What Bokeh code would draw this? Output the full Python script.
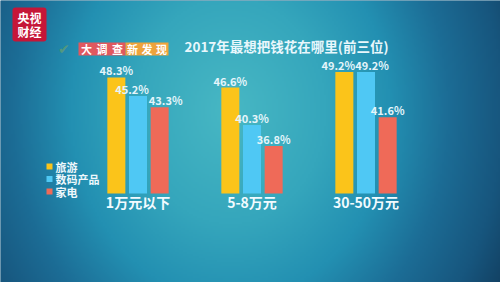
import numpy as np
from bokeh.plotting import figure
from bokeh.models import ColumnDataSource, Range1d, Label, BoxAnnotation
from bokeh.transform import dodge
from bokeh.core.properties import value
from bokeh.embed import file_html
from bokeh.resources import INLINE

# ---- data ----
categories = ["1万元以下", "5-8万元", "30-50万元"]
series_names = ["旅游", "数码产品", "家电"]
travel = [48.3, 46.6, 49.2]
digital = [45.2, 40.3, 49.2]
appliance = [43.3, 36.8, 41.6]
title_text = "2017年最想把钱花在哪里(前三位)"

# ---- styling ----
W, H = 500, 282
FONT = "Noto Sans CJK SC"
COLORS = ["#fbc41a", "#4fc8f4", "#ef6a58"]
BASE = 28.8
PX = 5.95          # pixels per percentage point
BASE_PX = 193      # baseline, px from top
GROUP_PX = 114     # px between groups
FIRST_PX = 137.5   # centre of first group
OFF = 0.19
BW = 0.158

y0 = BASE - (H - BASE_PX) / PX
y1 = BASE + BASE_PX / PX
x0 = -FIRST_PX / GROUP_PX
x1 = (W - FIRST_PX) / GROUP_PX

p = figure(width=W, height=H, output_backend="svg", toolbar_location=None,
           x_range=Range1d(x0, x1), y_range=Range1d(y0, y1),
           min_border=0, border_fill_color=None, outline_line_color=None)
p.axis.visible = False
p.grid.visible = False
p.background_fill_color = "#155a80"

# ---- background radial gradient ----
def hex2rgb(h):
    h = h.lstrip("#")
    return [int(h[i:i + 2], 16) for i in (0, 2, 4)]

stops = [0.0, 0.3, 0.5, 0.68, 0.85, 1.0, 1.25]
stop_cols = ["#48b8c4", "#35a6bc", "#2390b2", "#1c6d96", "#17567e", "#113a5a", "#0b2338"]
sc = np.array([hex2rgb(c) for c in stop_cols], dtype=float)
nx, ny = 250, 141
xs = (np.arange(nx) + 0.5) * W / nx
ys_top = H - (np.arange(ny) + 0.5) * H / ny   # row 0 = bottom
X, Y = np.meshgrid(xs, ys_top)
d = np.sqrt(((X - 230) / 320) ** 2 + ((Y - 110) / 380) ** 2)
rgb = np.stack([np.interp(d, stops, sc[:, k]) for k in range(3)], axis=-1).astype(np.uint32)
img = (255 << 24) | (rgb[..., 2] << 16) | (rgb[..., 1] << 8) | rgb[..., 0]
p.image_rgba(image=[img.astype(np.uint32)], x=x0, y=y0, dw=x1 - x0, dh=y1 - y0)

# ---- label nudging where neighbouring labels would collide ----
series = [travel, digital, appliance]
nudge = [[0.0] * len(categories) for _ in series]
for g in range(len(categories)):
    for s in range(len(series) - 1):
        if abs(series[s][g] - series[s + 1][g]) < 2.0:
            nudge[s][g] -= 6
            nudge[s + 1][g] += 6

# ---- bars ----
src = ColumnDataSource(dict(idx=list(range(len(categories))), cat=categories,
                            travel=travel, digital=digital, appliance=appliance,
                            travel_l=[f"{v}%" for v in travel],
                            digital_l=[f"{v}%" for v in digital],
                            appliance_l=[f"{v}%" for v in appliance],
                            travel_n=nudge[0], digital_n=nudge[1], appliance_n=nudge[2]))
for key, off, col in zip(["travel", "digital", "appliance"], [-OFF, 0, OFF], COLORS):
    p.vbar(x=dodge("idx", off), top=key, bottom=BASE, width=BW, source=src,
           fill_color=col, line_color=None)
    p.text(x=dodge("idx", off), y=key, text=key + "_l", source=src,
           x_offset=key + "_n",
           text_align="center", text_baseline="bottom", y_offset=1,
           text_font=value(FONT), text_font_style="bold", text_font_size="11px",
           text_color="#e4f5fb")

p.text(x="idx", y=BASE, text="cat", source=src, text_align="center",
       text_baseline="top", y_offset=-2, text_font=value(FONT),
       text_font_style="bold", text_font_size="14px", text_color="#f2fbff")

# ---- legend (drawn by hand) ----
for i, (name, col) in enumerate(zip(series_names, COLORS)):
    cy = 166 + i * 12.5
    p.add_layout(BoxAnnotation(left=46, right=52, top=H - (cy - 3), bottom=H - (cy + 3),
                               left_units="screen", right_units="screen",
                               top_units="screen", bottom_units="screen",
                               fill_color=col, fill_alpha=1, line_color=None))
    p.add_layout(Label(x=55, y=H - cy, x_units="screen", y_units="screen", text=name,
                       text_align="left", text_baseline="middle", text_font=FONT,
                       text_font_style="bold", text_font_size="11px", text_color="#eef8fc"))

# ---- title ----
p.add_layout(Label(x=286, y=H - 45, x_units="screen", y_units="screen", text=title_text,
                   text_align="center", text_baseline="middle", text_font=FONT,
                   text_font_style="bold", text_font_size="13.5px", text_color="#e8f7fc"))

# ---- logo ----
p.add_layout(BoxAnnotation(left=12, right=46, top=H - 7, bottom=H - 41,
                           left_units="screen", right_units="screen",
                           top_units="screen", bottom_units="screen",
                           fill_color="#c51638", fill_alpha=1, line_color=None,
                           border_radius=3))
for txt, yy in [("央视", 17), ("财经", 31)]:
    p.add_layout(Label(x=29, y=H - yy, x_units="screen", y_units="screen", text=txt,
                       text_align="center", text_baseline="middle", text_font=FONT,
                       text_font_style="bold", text_font_size="12px", text_color="white"))

# ---- badge ----
p.add_layout(BoxAnnotation(left=78, right=125, top=H - 42, bottom=H - 55,
                           left_units="screen", right_units="screen",
                           top_units="screen", bottom_units="screen",
                           fill_color="#e0585f", fill_alpha=1, line_color=None))
p.add_layout(BoxAnnotation(left=125, right=168, top=H - 42, bottom=H - 55,
                           left_units="screen", right_units="screen",
                           top_units="screen", bottom_units="screen",
                           fill_color="#eea33c", fill_alpha=1, line_color=None))
for ch, cx in zip("大调查新发现", [86, 101.5, 117, 132, 146.5, 161]):
    p.add_layout(Label(x=cx, y=H - 48.5, x_units="screen", y_units="screen", text=ch,
                       text_align="center", text_baseline="middle", text_font=FONT,
                       text_font_style="bold", text_font_size="11px", text_color="white"))
p.add_layout(Label(x=63, y=H - 48, x_units="screen", y_units="screen", text="✔",
                   text_align="center", text_baseline="middle",
                   text_font_size="14px", text_color="#5c9c78", text_alpha=0.85))

open("out.html", "w").write(file_html(p, INLINE))
